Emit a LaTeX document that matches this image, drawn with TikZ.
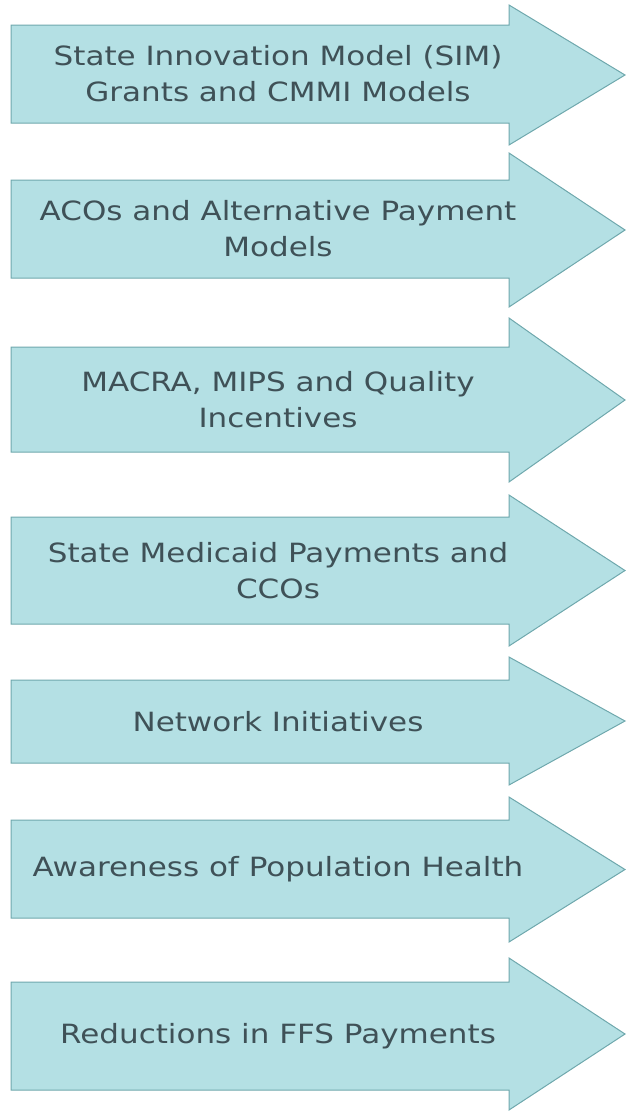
\documentclass[tikz,border=0pt]{standalone}
\usepackage{fontspec}
\setmainfont{DejaVu Sans}
\definecolor{arrowfill}{HTML}{B4E0E4}
\definecolor{arrowline}{HTML}{6FA8AD}
\definecolor{arrowtext}{HTML}{3F5157}
\tikzset{
  payarrow/.style={fill=arrowfill, draw=arrowline, line width=1pt, line join=miter},
  paylabel/.style={text=arrowtext, font=\fontsize{26.5}{36}\selectfont, align=center, xscale=1.17}
}
\begin{document}
\begin{tikzpicture}[x=1pt, y=-1pt]
    \useasboundingbox (0,0) rectangle (627,1111);
    % head top / body top / body bottom / head bottom / text
    \foreach \htop/\btop/\bbot/\hbot/\txt [count=\i] in {
        5/25/123/145/{State Innovation Model (SIM)\\Grants and CMMI Models},
        153/180/278/307/{ACOs and Alternative Payment\\Models},
        318/347/452/482/{MACRA, MIPS and Quality\\Incentives},
        495/517/624/646/{State Medicaid Payments and\\CCOs},
        657/680/763/785/{Network Initiatives},
        797/820/918/942/{Awareness of Population Health},
        958/982/1090/1110/{Reductions in FFS Payments}}{
        \draw[payarrow] (11,\btop) -- (509,\btop) -- (509,\htop) -- (625,{(\htop+\hbot)/2})
            -- (509,\hbot) -- (509,\bbot) -- (11,\bbot) -- cycle;
        \node[paylabel] (pay\i) at (278,{(\btop+\bbot)/2}) {\txt};
    }
\end{tikzpicture}
\end{document}
